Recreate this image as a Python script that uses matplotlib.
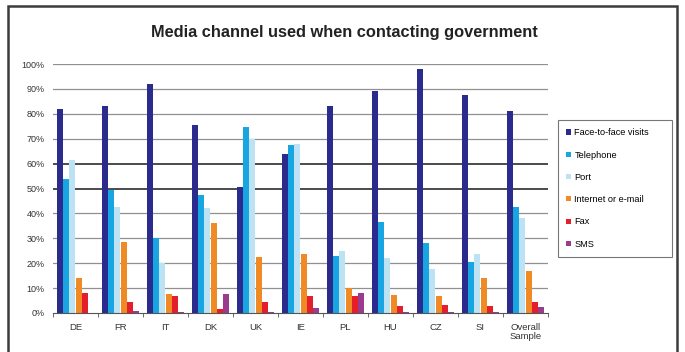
import matplotlib.pyplot as plt
import numpy as np
from matplotlib.patches import Rectangle

plt.rcParams['font.family'] = ['Liberation Sans', 'DejaVu Sans']

countries = ["DE", "FR", "IT", "DK", "UK", "IE", "PL", "HU", "CZ", "SI", "Overall\nSample"]
channels = ["Face-to-face visits", "Telephone", "Port", "Internet or e-mail", "Fax", "SMS"]

face_to_face = [82, 83, 92, 75.5, 50.5, 64, 83, 89, 98, 87.5, 81]
telephone = [54, 49.5, 30, 47.5, 74.5, 67.5, 23, 36.5, 28, 20.5, 42.5]
port = [61.5, 42.5, 20, 42, 70, 68, 25, 22, 17.5, 23.5, 38]
internet = [14, 28.5, 7.8, 36, 22.5, 23.5, 10, 7.2, 7, 14, 17]
fax = [8, 4.6, 6.8, 1.7, 4.3, 7, 7, 3, 3.1, 3, 4.6]
sms = [0.2, 1, 0.3, 7.5, 0.5, 2, 8, 0.3, 0.3, 0.3, 2.4]

colors = ["#2a2b8c", "#18a6e2", "#bde2f4", "#f08a24", "#e41f2b", "#9a3b8e"]

series = [face_to_face, telephone, port, internet, fax, sms]

fig = plt.figure(figsize=(6.85, 3.52), dpi=100)
fig.patches.append(Rectangle((8 / 685, -0.05), 669 / 685, 1.05 - 6 / 352,
                             transform=fig.transFigure, fill=False,
                             edgecolor="#3c3c3c", linewidth=1.8))

ax = fig.add_axes([53 / 685, 1 - 313 / 352, 495 / 685, 249 / 352])

x = np.arange(len(countries))
width = 0.14
for i, (vals, col, name) in enumerate(zip(series, colors, channels)):
    ax.bar(x + (i - 2.5) * width, np.array(vals) / 100, width * 0.92,
           color=col, label=name, zorder=3)

# Gridlines, the middle two drawn darker
for v in np.arange(0.1, 1.01, 0.1):
    dark = abs(v - 0.5) < 1e-6 or abs(v - 0.6) < 1e-6
    ax.axhline(v, color="#1a1a1a" if dark else "#909090",
               linewidth=1.1 if dark else 0.9, zorder=1)

ax.set_xlim(-0.5, len(countries) - 0.5)
ax.set_ylim(0, 1)
ax.set_yticks(np.arange(0, 1.01, 0.1))
ax.set_yticklabels([f"{int(round(v * 100))}%" for v in np.arange(0, 1.01, 0.1)],
                   fontsize=6.5, color="#333333")
ax.tick_params(axis="y", length=0, pad=6)
ax.set_xticks(x)
ax.set_xticklabels(countries, fontsize=6.8, color="#333333", linespacing=1.0)
ax.tick_params(axis="x", length=0, pad=7)
ax.set_xticks(np.arange(-0.5, len(countries)), minor=True)
ax.tick_params(axis="x", which="minor", length=3, direction="out", color="#555555")

for s in ["top", "right", "left"]:
    ax.spines[s].set_visible(False)
ax.spines["bottom"].set_color("#555555")
ax.spines["bottom"].set_zorder(4)

fig.text(344 / 685, 1 - 32 / 352, "Media channel used when contacting government",
         ha="center", va="center", fontsize=11.8, fontweight="bold", color="#222222")

leg = ax.legend(loc="upper left",
                bbox_to_anchor=(558 / 685, 1 - 253 / 352, 114 / 685, 133 / 352),
                bbox_transform=fig.transFigure, mode="expand", fontsize=6.6,
                frameon=True, fancybox=False, edgecolor="#555555",
                handlelength=0.5, handleheight=0.5, handletextpad=0.4,
                labelspacing=1.45, borderpad=0.9, borderaxespad=0)
leg.get_frame().set_linewidth(0.8)

fig.savefig("out.png", dpi=100)
